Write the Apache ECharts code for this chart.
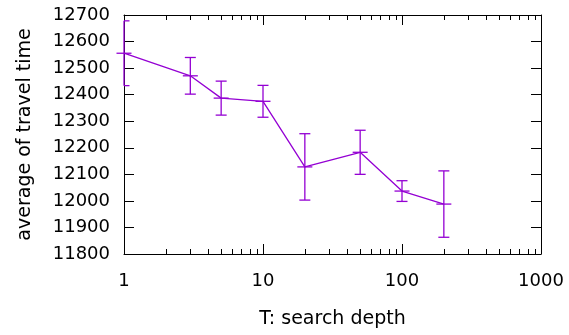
<!DOCTYPE html>
<html>
<head>
<meta charset="utf-8">
<script src="https://cdn.jsdelivr.net/npm/echarts@6/dist/echarts.min.js"></script>
<style>
  html, body { margin: 0; padding: 0; background: #fff; }
  #chart { width: 569px; height: 335px; }
</style>
</head>
<body>
<div id="chart"></div>
<script>
// search depth T and measured average travel time (with +/- error)
const depths = [1, 3, 5, 10, 20, 50, 100, 200];
const avgTime = [12556, 12471, 12387, 12375, 12128, 12183, 12037, 11988];
const errTime = [122, 69, 64, 60, 125, 83, 39, 125];
const minorTicks = [2, 3, 4, 5, 6, 7, 8, 9, 20, 30, 40, 50, 60, 70, 80, 90, 200, 300, 400, 500, 600, 700, 800, 900];

const FONT = "DejaVu Sans";
const FS = 18;
const NAME_FS = 19;
const COLOR = "#9400d3";

const chart = echarts.init(document.getElementById("chart"), null, { renderer: "canvas" });

const lineData = depths.map((d, i) => [d, avgTime[i]]);
const errData = depths.map((d, i) => [d, avgTime[i], errTime[i]]);

function renderErr(params, api) {
  const cs = params.coordSys;
  const x = api.value(0), y = api.value(1), e = api.value(2);
  const top = api.coord([x, y + e]);
  const bot = api.coord([x, y - e]);
  const mid = api.coord([x, y]);
  const style = { stroke: COLOR, lineWidth: 1.3 };
  const cap = 5.5, plus = 7.5;
  // error bars are clipped to the plot frame, the "+" point is not
  const cl = Math.max(top[0] - cap, cs.x);
  const cr = Math.min(top[0] + cap, cs.x + cs.width);
  return {
    type: "group",
    children: [
      { type: "line", shape: { x1: top[0], y1: top[1], x2: bot[0], y2: bot[1] }, style },
      { type: "line", shape: { x1: cl, y1: top[1], x2: cr, y2: top[1] }, style },
      { type: "line", shape: { x1: cl, y1: bot[1], x2: cr, y2: bot[1] }, style },
      { type: "line", shape: { x1: mid[0] - plus, y1: mid[1], x2: mid[0] + plus, y2: mid[1] }, style }
    ]
  };
}

function renderMinor(params, api) {
  const cs = params.coordSys;
  const p = api.coord([api.value(0), 11800]);
  const x = Math.round(p[0]) + 0.5;
  const style = { stroke: "#000", lineWidth: 1 };
  return {
    type: "group",
    children: [
      { type: "line", shape: { x1: x, y1: cs.y + cs.height, x2: x, y2: cs.y + cs.height - 5 }, style },
      { type: "line", shape: { x1: x, y1: cs.y, x2: x, y2: cs.y + 5 }, style }
    ]
  };
}

const axisLine = { show: true, lineStyle: { color: "#000", width: 1 } };
const tick = { show: true, inside: true, length: 10, lineStyle: { color: "#000", width: 1 } };

chart.setOption({
  animation: false,
  backgroundColor: "#fff",
  grid: { left: 124, right: 28, top: 15, bottom: 81, containLabel: false, outerBoundsMode: "none" },
  xAxis: [
    {
      type: "log", logBase: 10, min: 1, max: 1000,
      name: "T: search depth", nameLocation: "middle", nameGap: 56, nameMoveOverlap: false,
      nameTextStyle: { fontFamily: FONT, fontSize: NAME_FS, color: "#000" },
      axisLine, axisTick: tick, splitLine: { show: false },
      axisLabel: { fontFamily: FONT, fontSize: FS, color: "#000", margin: 18, formatter: v => String(Math.round(v)) }
    },
    {
      type: "log", logBase: 10, min: 1, max: 1000, position: "top",
      axisLine, axisTick: tick, splitLine: { show: false }, axisLabel: { show: false }
    }
  ],
  yAxis: [
    {
      type: "value", min: 11800, max: 12700, interval: 100,
      name: "average of travel time", nameLocation: "middle", nameGap: 89, nameMoveOverlap: false,
      nameTextStyle: { fontFamily: FONT, fontSize: NAME_FS, color: "#000" },
      axisLine, axisTick: tick, splitLine: { show: false },
      axisLabel: { fontFamily: FONT, fontSize: FS, color: "#000", margin: 14, formatter: v => String(v) }
    },
    {
      type: "value", min: 11800, max: 12700, interval: 100, position: "right",
      axisLine, axisTick: tick, splitLine: { show: false }, axisLabel: { show: false }
    }
  ],
  series: [
    {
      type: "line", data: lineData, symbol: "none",
      lineStyle: { color: COLOR, width: 1.3 }, itemStyle: { color: COLOR }, z: 3
    },
    {
      type: "custom", data: errData, renderItem: renderErr, z: 4, clip: false,
      encode: { x: 0, y: 1 }
    },
    {
      type: "custom", data: minorTicks.map(v => [v]), renderItem: renderMinor, z: 5,
      encode: { x: 0 }, silent: true
    }
  ]
});
</script>
</body>
</html>
